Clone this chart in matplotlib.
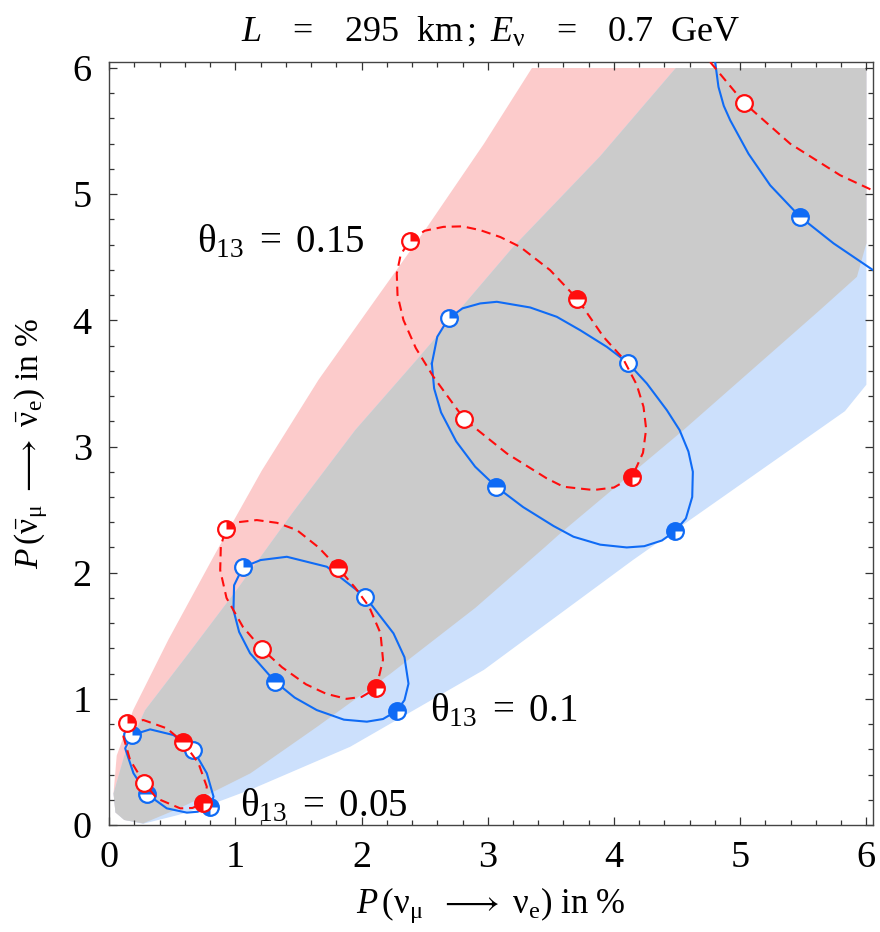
import matplotlib
matplotlib.use('Agg')
import numpy as np
import matplotlib.pyplot as plt
from matplotlib.path import Path

plt.rcParams['font.family'] = ['Liberation Serif', 'DejaVu Serif']
plt.rcParams['mathtext.fontset'] = 'custom'
plt.rcParams['mathtext.rm'] = 'Liberation Serif'
plt.rcParams['mathtext.it'] = 'Liberation Serif:italic'

# band edges, (x, y) in %
ih_left = [(0.035, 0.25), (0.06, 0.55), (0.19, 0.91), (0.47, 1.47), (0.84, 2.15),
           (1.21, 2.81), (1.66, 3.53), (2.1, 4.15), (2.52, 4.74), (2.97, 5.40), (3.35, 6.0)]
nh_upper = [(0.035, 0.25), (0.12, 0.55), (0.285, 0.91), (0.63, 1.36), (1.03, 1.89),
            (1.45, 2.47), (1.95, 3.13), (2.44, 3.69), (3.20, 4.58), (3.89, 5.30), (4.49, 6.0)]
ih_lower = [(0.035, 0.25), (0.05, 0.10), (0.12, 0.04), (0.27, 0.013), (0.55, 0.13),
            (0.8, 0.25), (1.12, 0.41), (1.65, 0.78), (2.23, 1.20), (2.9, 1.72),
            (3.45, 2.20), (3.574, 2.311), (4.55, 3.13), (5.63, 4.08), (5.925, 4.345), (6.0, 4.61)]
nh_lower = [(0.035, 0.25), (0.05, 0.10), (0.12, 0.04), (0.27, 0.01), (0.55, 0.08),
            (0.8, 0.16), (1.12, 0.28), (1.91, 0.62), (2.97, 1.23), (4.15, 2.10),
            (5.83, 3.28), (6.0, 3.49)]

# NH (solid blue) and IH (dashed red) curves, theta13 = 0.05, 0.1, 0.15, 0.2
nh_005 = [(0.180, 0.713), (0.325, 0.758), (0.510, 0.713), (0.668, 0.594), (0.774, 0.410),
          (0.827, 0.225), (0.800, 0.140), (0.70, 0.105), (0.616, 0.098), (0.457, 0.132),
          (0.299, 0.246), (0.193, 0.410), (0.127, 0.608)]
ih_005 = [(0.140, 0.811), (0.272, 0.832), (0.457, 0.766), (0.589, 0.654), (0.708, 0.489),
          (0.774, 0.303), (0.747, 0.172), (0.66, 0.135), (0.563, 0.132), (0.378, 0.211),
          (0.280, 0.330), (0.166, 0.515), (0.113, 0.700)]
nh_010 = [(1.059, 2.042), (1.20, 2.10), (1.408, 2.126), (1.725, 2.047), (2.029, 1.809),
          (2.253, 1.519), (2.340, 1.330), (2.372, 1.120), (2.340, 0.990), (2.280, 0.905),
          (2.17, 0.84), (2.042, 0.819), (1.860, 0.835), (1.645, 0.911), (1.470, 1.010),
          (1.315, 1.136), (1.117, 1.361), (1.030, 1.530), (0.985, 1.704), (0.990, 1.900)]
ih_010 = [(0.924, 2.345), (1.020, 2.400), (1.170, 2.417), (1.330, 2.395), (1.487, 2.338),
          (1.660, 2.200), (1.817, 2.034), (1.950, 1.880), (2.060, 1.730), (2.150, 1.520),
          (2.170, 1.310), (2.116, 1.083), (2.000, 1.015), (1.880, 1.000), (1.720, 1.040),
          (1.560, 1.115), (1.370, 1.250), (1.210, 1.396), (1.060, 1.570), (0.930, 1.800),
          (0.880, 2.020), (0.885, 2.210)]
nh_015 = [(2.557, 3.657), (2.600, 3.870), (2.689, 4.015), (2.800, 4.095), (2.940, 4.134),
          (3.072, 4.147), (3.336, 4.102), (3.547, 4.028), (3.732, 3.922), (3.943, 3.790),
          (4.110, 3.663), (4.260, 3.500), (4.419, 3.288), (4.520, 3.130), (4.590, 2.960),
          (4.625, 2.800), (4.620, 2.600), (4.570, 2.430), (4.482, 2.327), (4.380, 2.255),
          (4.240, 2.210), (4.101, 2.200), (3.891, 2.222), (3.679, 2.285), (3.521, 2.370),
          (3.28, 2.52), (3.067, 2.681), (2.900, 2.840), (2.750, 3.040), (2.630, 3.270),
          (2.575, 3.460)]
ih_015 = [(2.380, 4.630), (2.50, 4.71), (2.649, 4.741), (2.800, 4.745), (2.940, 4.715),
          (3.100, 4.660), (3.257, 4.582), (3.494, 4.398), (3.711, 4.168), (3.917, 3.869),
          (4.070, 3.700), (4.180, 3.490), (4.234, 3.315), (4.255, 3.140), (4.230, 2.950),
          (4.142, 2.757), (4.0, 2.675), (3.838, 2.655), (3.600, 2.681), (3.468, 2.747),
          (3.151, 2.945), (2.815, 3.215), (2.570, 3.552), (2.430, 3.780), (2.332, 4.002),
          (2.285, 4.200), (2.279, 4.372), (2.310, 4.520)]
nh_020 = [(4.79, 6.15), (4.80, 6.06), (4.828, 5.85), (4.870, 5.700), (4.921, 5.586),
          (5.066, 5.32), (5.238, 5.07), (5.475, 4.82), (5.74, 4.61), (6.05, 4.40), (6.15, 4.34)]
ih_020 = [(4.70, 6.15), (4.76, 6.05), (5.032, 5.723), (5.396, 5.40), (5.792, 5.15),
          (6.05, 5.03), (6.15, 4.98)]

# delta_CP = 0, pi/2, pi, 3pi/2 points
nh_pts = {'empty': [(0.668, 0.594), (2.029, 1.809), (4.110, 3.663)],
          'quarter': [(0.180, 0.713), (1.059, 2.042), (2.689, 4.015)],
          'half': [(0.299, 0.246), (1.315, 1.136), (3.067, 2.681), (5.475, 4.82)],
          'three': [(0.800, 0.140), (2.280, 0.905), (4.482, 2.327)]}
ih_pts = {'empty': [(0.280, 0.330), (1.210, 1.396), (2.815, 3.215), (5.032, 5.723)],
          'quarter': [(0.140, 0.811), (0.924, 2.345), (2.380, 4.630)],
          'half': [(0.589, 0.654), (1.817, 2.034), (3.711, 4.168)],
          'three': [(0.747, 0.172), (2.116, 1.083), (4.142, 2.757)]}

labels = ['$\\mathregular{θ_{13}\\ =\\ 0.15}$', '$\\mathregular{θ_{13}\\ =\\ 0.1}$',
          '$\\mathregular{θ_{13}\\ =\\ 0.05}$']
label_pos = [(0.70, 4.543), (2.544, 0.819), (1.04, 0.066)]

blue = '#0f6bf5'
red = '#ff0d0d'


def wedge(a1, a2):
    t = np.radians(np.linspace(a1, a2, 60))
    v = np.vstack([[0, 0], np.column_stack([np.cos(t), np.sin(t)]), [0, 0]])
    return Path(v, closed=True)


fills = {'quarter': wedge(0, 90), 'half': wedge(0, 180), 'three': wedge(0, 270)}

fig = plt.figure(figsize=(8.8, 9.32), dpi=100)
ax = fig.add_axes([0.1233, 0.1148, 0.8684, 0.819])

top = [(6.0, 6.0)]
pink = ih_left + top + ih_lower[::-1]
lblue = nh_upper + top + nh_lower[::-1]
grey = nh_upper + top + ih_lower[::-1]
ax.fill(*zip(*pink), color='#fccbcb', lw=0, zorder=1)
ax.fill(*zip(*lblue), color='#cce0fc', lw=0, zorder=1)
ax.fill(*zip(*grey), color='#cbcbcb', lw=0, zorder=1)


def curve(pts, closed, color, ls, z):
    p = pts + pts[:1] if closed else pts
    x, y = zip(*p)
    line, = ax.plot(x, y, color=color, lw=1.5, zorder=z)
    if ls == 'dash':
        line.set_dashes((4.5, 2.8))


for c in [nh_005, nh_010, nh_015]:
    curve(c, True, blue, 'solid', 3)
curve(nh_020, False, blue, 'solid', 3)


def markers(pts, color, z):
    for kind, p in pts.items():
        x, y = zip(*p)
        ax.plot(x, y, 'o', ms=12, mfc='white', mec=color, mew=1.6, zorder=z)
        if kind in fills:
            ax.plot(x, y, ls='none', marker=fills[kind], ms=12, mfc=color,
                    mec='none', zorder=z + 0.1)


markers(nh_pts, blue, 4)
for c in [ih_005, ih_010, ih_015]:
    curve(c, True, red, 'dash', 5)
curve(ih_020, False, red, 'dash', 5)
markers(ih_pts, red, 6)

for s, (x, y) in zip(labels, label_pos):
    ax.text(x, y, s, fontsize=28, va='baseline', ha='left', zorder=7)

ax.set_xlim(-0.005, 6.05)
ax.set_ylim(0, 6.05)
ax.set_xticks(range(7))
ax.set_yticks(range(7))
ax.set_xticks(np.arange(0, 6.01, 0.2), minor=True)
ax.set_yticks(np.arange(0, 6.01, 0.2), minor=True)
ax.tick_params(which='both', direction='in', top=True, right=True, color='#333333',
               labelsize=27.5, width=0.9)
ax.tick_params(which='major', length=5.5)
ax.tick_params(which='minor', length=3.5)
ax.tick_params(axis='x', pad=11.5)
ax.tick_params(axis='y', pad=12)
for s in ax.spines.values():
    s.set_color('#444444')
    s.set_linewidth(1.0)

ax.set_xlabel('$P\\,\\mathregular{(ν_{μ}\\ \\ \\longrightarrow\\ ν_{e})\\ in\\ \\%}$',
              fontsize=25, labelpad=7)
ax.set_ylabel('$P\\,\\mathregular{(\\bar{ν}_{μ}\\ \\longrightarrow\\ \\bar{ν}_{e})\\ in\\ \\%}$',
              fontsize=24, labelpad=16)
ax.set_title('$L\\ \\ \\ =\\ \\ \\ \\mathregular{295\\ \\ km\\,;\\ }E_{\\mathregular{ν}}'
             '\\ \\ \\ =\\ \\ \\ \\mathregular{0.7\\ \\ GeV}$', fontsize=26, pad=15)

fig.savefig('out.png', dpi=100)
